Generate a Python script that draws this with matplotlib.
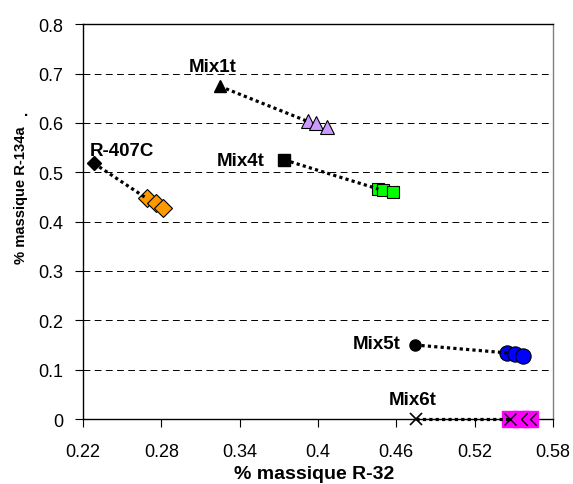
import matplotlib
matplotlib.use("Agg")
import matplotlib.pyplot as plt
from matplotlib.path import Path

plt.rcParams['font.family'] = ['Liberation Sans', 'DejaVu Sans']

# mélanges : point théorique (noir) puis points mesurés (couleur)
names = ['R-407C', 'Mix1t', 'Mix4t', 'Mix5t', 'Mix6t']
theo_x = [0.2284, 0.325, 0.3743, 0.4744, 0.4752]
theo_y = [0.518, 0.674, 0.525, 0.150, 0.0]
meas_x = [[0.2688, 0.2760, 0.2811],
          [0.3922, 0.3986, 0.4070],
          [0.4463, 0.4501, 0.4578],
          [0.5447, 0.5510, 0.5569],
          [0.5474, 0.5558, 0.5627]]
meas_y = [[0.447, 0.437, 0.427],
          [0.603, 0.599, 0.591],
          [0.466, 0.464, 0.459],
          [0.134, 0.132, 0.128],
          [0.0, 0.0, 0.0]]
colors = ['#FF9900', '#CC99FF', '#00FF00', '#0000FF', '#FF00FF']
markers = ['D', '^', 's', 'o', 's']
theo_markers = ['D', '^', 's', 'o', 'x']
label_x = [0.2499, 0.3196, 0.3411, 0.4453, 0.4729]
label_y = [0.545, 0.715, 0.5246, 0.154, 0.0405]

# moitié droite d'un "x" (marqueurs masqués en partie dans Excel)
half_x = Path([(1, 1), (0, 0), (1, -1)], [Path.MOVETO, Path.LINETO, Path.LINETO])

fig = plt.figure(figsize=(5.73, 4.85), dpi=100)
ax = fig.add_axes([0.1449, 0.134, 0.8201, 0.814])

for i in range(len(names)):
    # ligne pointillée entre le point théorique et le premier point mesuré
    ax.plot([theo_x[i], meas_x[i][0]], [theo_y[i], meas_y[i][0]], color='black',
            lw=2.3, linestyle=(0, (1, 1)), zorder=5, clip_on=False)
    if theo_markers[i] == 'x':
        ax.plot(theo_x[i], theo_y[i], marker='x', color='black', ms=9, mew=1.2,
                ls='none', zorder=4, clip_on=False)
    else:
        ax.plot(theo_x[i], theo_y[i], marker=theo_markers[i], color='black',
                ms=8 if theo_markers[i] != 'D' else 7, ls='none', zorder=4, clip_on=False)
    if i == 4:
        for k in [2, 1, 0]:
            ax.plot(meas_x[i][k], meas_y[i][k], marker='s', color=colors[i],
                    mec=colors[i], ms=12, ls='none', zorder=4, clip_on=False)
        ax.plot(meas_x[i][0], meas_y[i][0], marker='x', color='black', ms=9,
                mew=1, ls='none', zorder=6, clip_on=False)
        ax.plot(meas_x[i][1:], meas_y[i][1:], marker=half_x, color='black',
                mfc='none', ms=9, mew=1, ls='none', zorder=6, clip_on=False)
    else:
        ms = {'D': 9.5, '^': 10.5, 's': 9, 'o': 11}[markers[i]]
        for x, y in zip(meas_x[i], meas_y[i]):
            ax.plot(x, y, marker=markers[i], mfc=colors[i], mec='black', mew=0.8,
                    ms=ms, ls='none', zorder=4, clip_on=False)
    ax.text(label_x[i], label_y[i], names[i], fontsize=13.5,
            fontweight='bold', ha='center', va='center')

ax.set_xlim(0.22, 0.58)
ax.set_ylim(0, 0.8)
ax.set_xticks([0.22, 0.28, 0.34, 0.40, 0.46, 0.52, 0.58])
ax.set_xticklabels(['0.22', '0.28', '0.34', '0.4', '0.46', '0.52', '0.58'])
ax.set_yticks([0, 0.1, 0.2, 0.3, 0.4, 0.5, 0.6, 0.7, 0.8])
ax.set_yticklabels(['0', '0.1', '0.2', '0.3', '0.4', '0.5', '0.6', '0.7', '0.8'])
ax.tick_params(labelsize=13, length=6, width=0.8, direction='out')
ax.tick_params(axis='x', pad=11)
ax.tick_params(axis='y', pad=8)
ax.yaxis.grid(True, color='black', linestyle=(0, (7, 4.5)), lw=0.7)
ax.set_axisbelow(True)
for s in ax.spines.values():
    s.set_linewidth(1)
ax.spines['right'].set_color('#808080')

fig.text(314 / 573, 1 - 479 / 485, '% massique R-32', fontsize=14,
         fontweight='bold', ha='center', va='baseline')
fig.text(21 / 573, 1 - 195 / 485, '% massique R-134a', fontsize=10.6,
         fontweight='bold', ha='center', va='center', rotation=90)
fig.text(26 / 573, 1 - 112 / 485, '.', fontsize=11, fontweight='bold',
         ha='center', va='center')

fig.savefig('out.png', dpi=100)
